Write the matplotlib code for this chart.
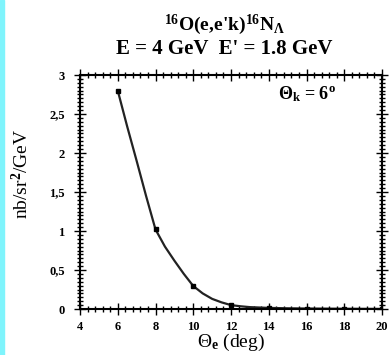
import numpy as np
import matplotlib
matplotlib.use("Agg")
import matplotlib.pyplot as plt
from matplotlib.ticker import MultipleLocator, FuncFormatter
from matplotlib.patches import Rectangle

# computed points (markers)
theta_e = [6, 8, 10, 12, 14, 16, 18, 20]
sigma = [2.80, 1.02, 0.295, 0.05, 0.015, 0.006, 0.003, 0.001]

# smooth curve
curve_theta = [6, 6.5, 7, 7.5, 8, 8.5, 9, 9.5, 10, 10.5, 11, 11.5, 12,
               12.5, 13, 14, 15, 16, 18, 20]
curve_sigma = [2.80, 2.34, 1.90, 1.45, 1.02, 0.80, 0.62, 0.45, 0.295, 0.20,
               0.13, 0.085, 0.05, 0.035, 0.024, 0.014, 0.009, 0.006, 0.003, 0.001]

title_lines = ["$^{16}$O(e,e'k)$^{16}$N$_{\\Lambda}$",
               "E = 4 GeV  E' = 1.8 GeV"]

plt.rcParams['font.family'] = ['Liberation Serif', 'DejaVu Serif']
plt.rcParams['font.weight'] = 'bold'
plt.rcParams['mathtext.fontset'] = 'custom'
plt.rcParams['mathtext.rm'] = 'Liberation Serif:bold'
plt.rcParams['mathtext.it'] = 'Liberation Serif:bold'
plt.rcParams['mathtext.bf'] = 'Liberation Serif:bold'

fig = plt.figure(figsize=(3.92, 3.55), dpi=100)
fig.patches.append(Rectangle((0, 0), 4 / 392, 1, transform=fig.transFigure,
                             color='#7ff4fc', zorder=0))
ax = fig.add_axes([80 / 392, 46 / 355, 302 / 392, 234 / 355])

ax.plot(curve_theta, curve_sigma, color='#222222', lw=1.6)
ax.plot(theta_e, sigma, 's', color='black', ms=3.5)

ax.set_xlim(4, 20)
ax.set_ylim(0, 3)
ax.xaxis.set_major_locator(MultipleLocator(2))
ax.xaxis.set_minor_locator(MultipleLocator(0.4))
ax.yaxis.set_major_locator(MultipleLocator(0.5))
ax.yaxis.set_minor_locator(MultipleLocator(0.05))
ax.yaxis.set_major_formatter(FuncFormatter(lambda v, p: f"{v:g}".replace('.', ',')))
ax.tick_params(which='both', direction='inout', top=True, right=True,
               labelsize=9, width=1.0)
ax.tick_params(which='major', length=8)
ax.tick_params(which='minor', length=4)
ax.tick_params(axis='y', which='major', pad=7)
ax.tick_params(axis='x', which='major', pad=5)
for s in ax.spines.values():
    s.set_linewidth(1.5)

ax.text(-0.195, 0.58, "nb/sr$^2$/GeV", transform=ax.transAxes, rotation=90,
        ha='center', va='center', fontsize=14, fontweight='normal')
ax.set_xlabel("\u0398$_e$ (deg)", fontsize=14, labelpad=-1)
ax.text(0.655, 0.895, "\u0398$_k$ = 6$^o$", transform=ax.transAxes,
        fontsize=13)

fig.text(0.572, 0.93, title_lines[0], ha='center', va='center', fontsize=14)
fig.text(0.572, 0.862, title_lines[1], ha='center', va='center', fontsize=15)

fig.savefig("out.png", dpi=100)
